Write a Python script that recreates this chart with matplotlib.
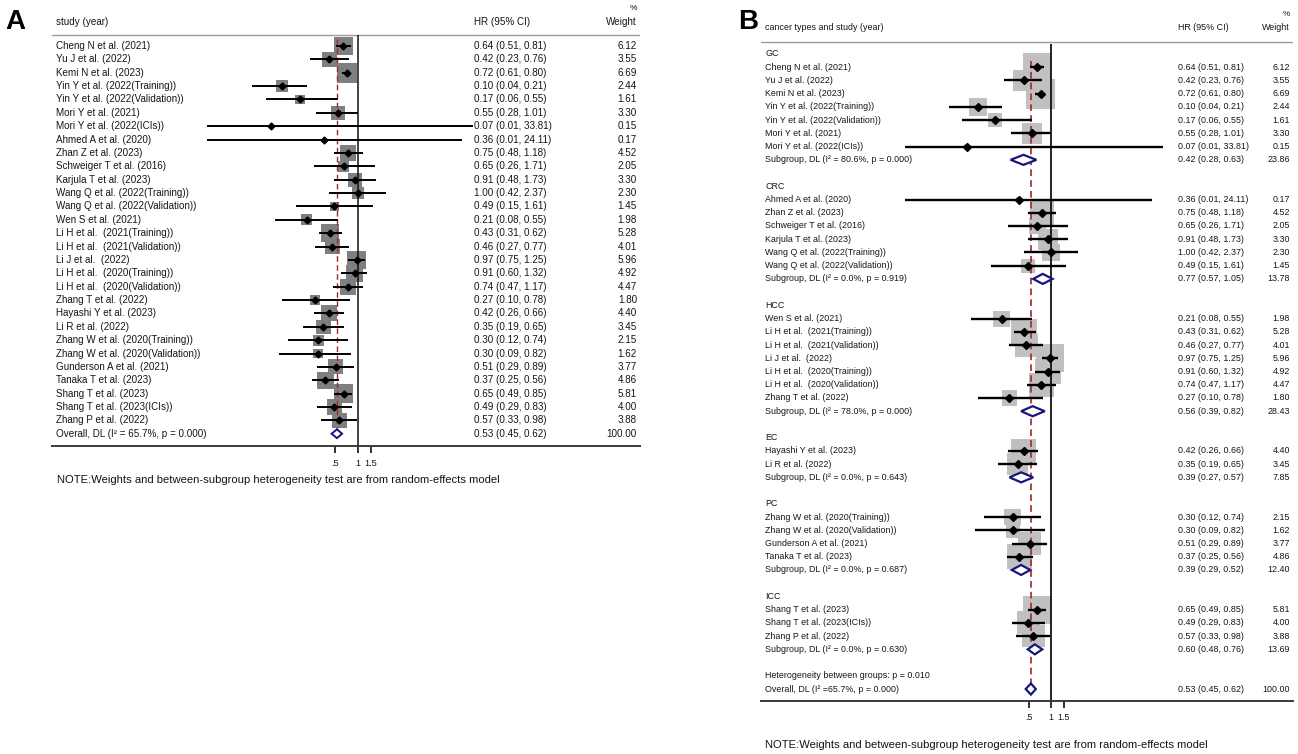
import numpy as np
import matplotlib.pyplot as plt
from matplotlib.transforms import blended_transform_factory

plt.rcParams['font.family'] = ['Liberation Sans', 'DejaVu Sans']

# study level data (same order in both panels)
studies = [
    "Cheng N et al. (2021)", "Yu J et al. (2022)", "Kemi N et al. (2023)",
    "Yin Y et al. (2022(Training))", "Yin Y et al. (2022(Validation))",
    "Mori Y et al. (2021)", "Mori Y et al. (2022(ICIs))",
    "Ahmed A et al. (2020)", "Zhan Z et al. (2023)", "Schweiger T et al. (2016)",
    "Karjula T et al. (2023)", "Wang Q et al. (2022(Training))",
    "Wang Q et al. (2022(Validation))",
    "Wen S et al. (2021)", "Li H et al.  (2021(Training))",
    "Li H et al.  (2021(Validation))", "Li J et al.  (2022)",
    "Li H et al.  (2020(Training))", "Li H et al.  (2020(Validation))",
    "Zhang T et al. (2022)",
    "Hayashi Y et al. (2023)", "Li R et al. (2022)",
    "Zhang W et al. (2020(Training))", "Zhang W et al. (2020(Validation))",
    "Gunderson A et al. (2021)", "Tanaka T et al. (2023)",
    "Shang T et al. (2023)", "Shang T et al. (2023(ICIs))", "Zhang P et al. (2022)",
]
hr = [0.64, 0.42, 0.72, 0.10, 0.17, 0.55, 0.07,
      0.36, 0.75, 0.65, 0.91, 1.00, 0.49,
      0.21, 0.43, 0.46, 0.97, 0.91, 0.74, 0.27,
      0.42, 0.35,
      0.30, 0.30, 0.51, 0.37,
      0.65, 0.49, 0.57]
lo = [0.51, 0.23, 0.61, 0.04, 0.06, 0.28, 0.01,
      0.01, 0.48, 0.26, 0.48, 0.42, 0.15,
      0.08, 0.31, 0.27, 0.75, 0.60, 0.47, 0.10,
      0.26, 0.19,
      0.12, 0.09, 0.29, 0.25,
      0.49, 0.29, 0.33]
hi = [0.81, 0.76, 0.80, 0.21, 0.55, 1.01, 33.81,
      24.11, 1.18, 1.71, 1.73, 2.37, 1.61,
      0.55, 0.62, 0.77, 1.25, 1.32, 1.17, 0.78,
      0.66, 0.65,
      0.74, 0.82, 0.89, 0.56,
      0.85, 0.83, 0.98]
weight = [6.12, 3.55, 6.69, 2.44, 1.61, 3.30, 0.15,
          0.17, 4.52, 2.05, 3.30, 2.30, 1.45,
          1.98, 5.28, 4.01, 5.96, 4.92, 4.47, 1.80,
          4.40, 3.45,
          2.15, 1.62, 3.77, 4.86,
          5.81, 4.00, 3.88]
cancer = ["GC", "GC", "GC", "GC", "GC", "GC", "GC",
          "CRC", "CRC", "CRC", "CRC", "CRC", "CRC",
          "HCC", "HCC", "HCC", "HCC", "HCC", "HCC", "HCC",
          "EC", "EC",
          "PC", "PC", "PC", "PC",
          "ICC", "ICC", "ICC"]

# subgroup results
groups = ["GC", "CRC", "HCC", "EC", "PC", "ICC"]
sub_hr = [0.42, 0.77, 0.56, 0.39, 0.39, 0.60]
sub_lo = [0.28, 0.57, 0.39, 0.27, 0.29, 0.48]
sub_hi = [0.63, 1.05, 0.82, 0.57, 0.52, 0.76]
sub_w = [23.86, 13.78, 28.43, 7.85, 12.40, 13.69]
sub_i2 = [80.6, 0.0, 78.0, 0.0, 0.0, 0.0]
sub_p = [0.000, 0.919, 0.000, 0.643, 0.687, 0.630]

overall = (0.53, 0.45, 0.62)
overall_i2 = 65.7
overall_p = 0.000
het_p = 0.010

NOTE = "NOTE:Weights and between-subgroup heterogeneity test are from random-effects model"
TXT = '#151515'
NAVY = '#16167e'
RED = '#a3262a'
FSA = 7.1   # panel A text
FSB = 6.4   # panel B text

W, H = 1298, 754
fig = plt.figure(figsize=(W / 100, H / 100), dpi=100)


def panel(left, right, top, bottom, one_px, px_ln, row0, step, fs):
    ax = fig.add_axes([left / W, 1 - bottom / H, (right - left) / W, (bottom - top) / H])
    ax.set_xscale('log')
    ax.set_xlim(np.exp((left - one_px) / px_ln), np.exp((right - one_px) / px_ln))
    ax.set_ylim((bottom - row0) / step, (top - row0) / step)
    for s in ['top', 'left', 'right']:
        ax.spines[s].set_visible(False)
    ax.spines['bottom'].set_color('#3a3a3a')
    ax.spines['bottom'].set_linewidth(1.4)
    ax.set_yticks([])
    ax.set_xticks([0.5, 1, 1.5])
    ax.set_xticklabels(['.5', '1', '1.5'])
    ax.xaxis.set_minor_locator(plt.NullLocator())
    ax.tick_params(axis='x', length=5, width=1.3, color='#222222', pad=4,
                   labelsize=fs, labelcolor=TXT)
    ax.patch.set_alpha(0)
    tr = blended_transform_factory(ax.transAxes, ax.transData)
    fx = lambda px: (px - left) / (right - left)
    fy = lambda px: (px - row0) / step
    return ax, tr, fx, fy


def diamond(ax, est, l, h, row, half, lw):
    ax.fill([l, est, h, est], [row, row - half, row, row + half],
            facecolor='white', edgecolor=NAVY, lw=lw, zorder=5)


# ---------------- Panel A ----------------
axA, trA, fxA, fyA = panel(52, 640, 0, 446, 357.7, 32.7, 46, 13.37, 6.6)
rows = np.arange(len(studies))
ov_row = len(studies)
axA.axhline(fyA(35), color='#9a9a9a', lw=1.0)
axA.scatter(hr, rows, s=(np.sqrt(weight) * 7.68 * 0.72) ** 2, marker='s',
            color='#7f7f7f', linewidths=0, zorder=1)
axA.vlines(1, fyA(35), fyA(446), color='#111111', lw=1.1, zorder=2)
axA.vlines(overall[0], -0.5, ov_row - 0.33, color=RED, lw=1.0,
           linestyles=(0, (4, 2.5)), zorder=2)
axA.hlines(rows, lo, hi, color='black', lw=1.4, zorder=3)
axA.plot(hr, rows, 'D', color='black', ms=3.5, zorder=4)
diamond(axA, *overall, ov_row, 0.33, 1.4)

xa_lab, xa_hr, xa_w = 56, 474, 637
axA.text(fxA(xa_lab), fyA(22), "study (year)", transform=trA, fontsize=FSA, color=TXT, va='center')
axA.text(fxA(xa_hr), fyA(22), "HR (95% CI)", transform=trA, fontsize=FSA, color=TXT, va='center')
axA.text(fxA(xa_w), fyA(22), "Weight", transform=trA, fontsize=FSA, color=TXT, va='center', ha='right')
axA.text(fxA(xa_w), fyA(8), "%", transform=trA, fontsize=FSA - 1, color=TXT, va='center', ha='right')
for i, name in enumerate(studies):
    axA.text(fxA(xa_lab), i, name, transform=trA, fontsize=FSA, color=TXT, va='center')
    axA.text(fxA(xa_hr), i, f"{hr[i]:.2f} ({lo[i]:.2f}, {hi[i]:.2f})", transform=trA,
             fontsize=FSA, color=TXT, va='center')
    axA.text(fxA(xa_w), i, f"{weight[i]:.2f}", transform=trA, fontsize=FSA, color=TXT,
             va='center', ha='right')
axA.text(fxA(xa_lab), ov_row, f"Overall, DL (I\u00b2 = {overall_i2:.1f}%, p = {overall_p:.3f})",
         transform=trA, fontsize=FSA, color=TXT, va='center')
axA.text(fxA(xa_hr), ov_row, "%.2f (%.2f, %.2f)" % overall, transform=trA, fontsize=FSA,
         color=TXT, va='center')
axA.text(fxA(xa_w), ov_row, "100.00", transform=trA, fontsize=FSA, color=TXT, va='center', ha='right')

fig.text(57 / W, 1 - 480 / H, NOTE, fontsize=8.1, color=TXT, va='center')
fig.text(5 / W, 1 - 22 / H, "A", fontsize=20, fontweight='bold', color='black', va='center')

# ---------------- Panel B ----------------
axB, trB, fxB, fyB = panel(761, 1293, 0, 701, 1051, 31.7, 54, 13.23, FSB)
axB.axhline(fyB(42), color='#9a9a9a', lw=1.0)

label_rows = []   # (row, text, hr-text, weight-text)
study_rows = []
sub_rows = []
r = 0
for g_i, g in enumerate(groups):
    label_rows.append((r, g, "", ""))
    r += 1
    for i in range(len(studies)):
        if cancer[i] == g:
            study_rows.append(r)
            label_rows.append((r, studies[i], f"{hr[i]:.2f} ({lo[i]:.2f}, {hi[i]:.2f})",
                               f"{weight[i]:.2f}"))
            r += 1
    sub_rows.append(r)
    label_rows.append((r, f"Subgroup, DL (I\u00b2 = {sub_i2[g_i]:.1f}%, p = {sub_p[g_i]:.3f})",
                       f"{sub_hr[g_i]:.2f} ({sub_lo[g_i]:.2f}, {sub_hi[g_i]:.2f})",
                       f"{sub_w[g_i]:.2f}"))
    r += 2
label_rows.append((r, f"Heterogeneity between groups: p = {het_p:.3f}", "", ""))
r += 1
ov_rowB = r
label_rows.append((r, f"Overall, DL (I\u00b2 ={overall_i2:.1f}%, p = {overall_p:.3f})",
                   "%.2f (%.2f, %.2f)" % overall, "100.00"))

axB.scatter(hr, study_rows, s=(np.sqrt(weight) * 11.5 * 0.72) ** 2, marker='s',
            color='#c0c0c0', linewidths=0, zorder=1)
axB.vlines(1, fyB(44), fyB(701), color='#111111', lw=1.3, zorder=2)
axB.vlines(overall[0], 0.5, ov_rowB - 0.42, color=RED, lw=1.2,
           linestyles=(0, (4, 2.5)), zorder=2)
axB.hlines(study_rows, lo, hi, color='black', lw=1.7, zorder=3)
axB.plot(hr, study_rows, 'D', color='black', ms=4.2, zorder=4)
for g_i in range(len(groups)):
    diamond(axB, sub_hr[g_i], sub_lo[g_i], sub_hi[g_i], sub_rows[g_i], 0.38, 1.6)
diamond(axB, *overall, ov_rowB, 0.42, 1.6)

axB.text(fxB(765), fyB(28), "cancer types and study (year)", transform=trB, fontsize=FSB,
         color=TXT, va='center')
axB.text(fxB(1178), fyB(28), "HR (95% CI)", transform=trB, fontsize=FSB, color=TXT, va='center')
axB.text(fxB(1290), fyB(28), "Weight", transform=trB, fontsize=FSB, color=TXT, va='center', ha='right')
axB.text(fxB(1290), fyB(14), "%", transform=trB, fontsize=FSB - 0.5, color=TXT, va='center', ha='right')
for row, name, hrtxt, wtxt in label_rows:
    axB.text(fxB(765), row, name, transform=trB, fontsize=FSB, color=TXT, va='center')
    axB.text(fxB(1178), row, hrtxt, transform=trB, fontsize=FSB, color=TXT, va='center')
    axB.text(fxB(1290), row, wtxt, transform=trB, fontsize=FSB, color=TXT, va='center', ha='right')

fig.text(765 / W, 1 - 745 / H, NOTE, fontsize=8.1, color=TXT, va='center')
fig.text(738 / W, 1 - 22 / H, "B", fontsize=20, fontweight='bold', color='black', va='center')

fig.savefig("out.png", dpi=100)
